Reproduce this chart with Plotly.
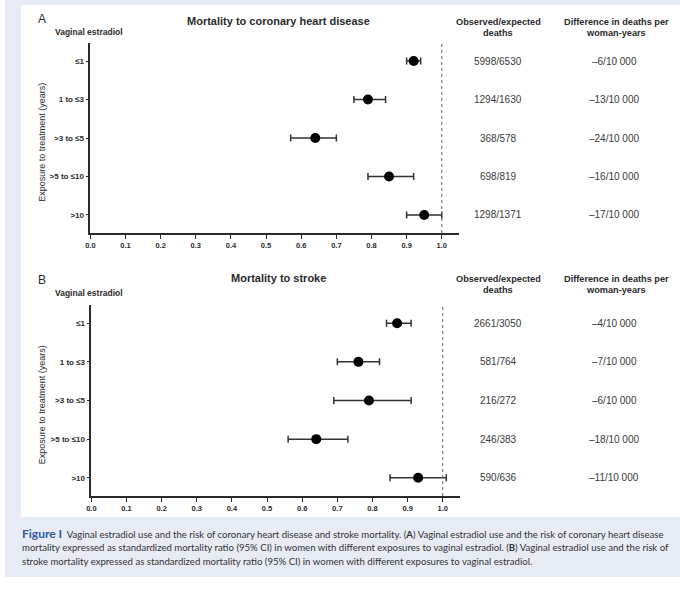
import plotly.graph_objects as go

# ---------------- data ----------------
categories = ["≤1", "1 to ≤3", ">3 to ≤5", ">5 to ≤10", ">10"]

chd_smr = [0.92, 0.79, 0.64, 0.85, 0.95]
chd_lo = [0.90, 0.75, 0.57, 0.79, 0.90]
chd_hi = [0.94, 0.84, 0.70, 0.92, 1.00]
chd_obs_exp = ["5998/6530", "1294/1630", "368/578", "698/819", "1298/1371"]
chd_diff = ["–6/10 000", "–13/10 000", "–24/10 000", "–16/10 000", "–17/10 000"]

stroke_smr = [0.87, 0.76, 0.79, 0.64, 0.93]
stroke_lo = [0.84, 0.70, 0.69, 0.56, 0.85]
stroke_hi = [0.91, 0.82, 0.91, 0.73, 1.01]
stroke_obs_exp = ["2661/3050", "581/764", "216/272", "246/383", "590/636"]
stroke_diff = ["–4/10 000", "–7/10 000", "–6/10 000", "–18/10 000", "–11/10 000"]

x_ticks = [0.0, 0.1, 0.2, 0.3, 0.4, 0.5, 0.6, 0.7, 0.8, 0.9, 1.0]
x_tick_labels = ["0.0", "0.1", "0.2", "0.3", "0.4", "0.5", "0.6", "0.7", "0.8", "0.9", "1.0"]

W, H = 680, 594
def px(x):
    return x / W
def py(y):
    return 1 - y / H

AX = "Arial, Liberation Sans, sans-serif"
CAP = "Lato, sans-serif"
DARK = "#2b2b2b"

fig = go.Figure()

panels = [
    dict(smr=chd_smr, lo=chd_lo, hi=chd_hi, obs=chd_obs_exp, diff=chd_diff,
         xa="x", ya="y", xdom=(86, 457.7), ydom=(43, 233),
         letter="A", letter_y=19, title="Mortality to coronary heart disease", title_y=21,
         ve_y=32, head_y=(22, 33)),
    dict(smr=stroke_smr, lo=stroke_lo, hi=stroke_hi, obs=stroke_obs_exp, diff=stroke_diff,
         xa="x2", ya="y2", xdom=(87, 458.7), ydom=(305, 496),
         letter="B", letter_y=280, title="Mortality to stroke", title_y=278,
         ve_y=293, head_y=(279, 290)),
]

annotations = []
shapes = []

# backgrounds
shapes.append(dict(type="rect", xref="paper", yref="paper", x0=0, x1=1, y0=py(577), y1=1,
                   fillcolor="#e6ebf4", line=dict(width=0), layer="below"))
shapes.append(dict(type="rect", xref="paper", yref="paper", x0=px(16), x1=1, y0=py(517), y1=py(5),
                   fillcolor="white", line=dict(width=0), layer="below"))

for i, p in enumerate(panels):
    err_plus = [h - m for h, m in zip(p["hi"], p["smr"])]
    err_minus = [m - l for m, l in zip(p["smr"], p["lo"])]
    fig.add_trace(go.Scatter(
        x=p["smr"], y=categories, mode="markers",
        marker=dict(color="black", size=10),
        error_x=dict(type="data", symmetric=False, array=err_plus, arrayminus=err_minus,
                     color="#333333", thickness=1.5, width=3.5),
        xaxis=p["xa"], yaxis=p["ya"], showlegend=False, hoverinfo="skip",
    ))
    xkey = "xaxis" if i == 0 else "xaxis2"
    ykey = "yaxis" if i == 0 else "yaxis2"
    fig.update_layout(**{
        xkey: dict(domain=[px(p["xdom"][0]), px(p["xdom"][1])], range=[0, 1.05],
                   anchor=p["ya"], tickvals=x_ticks, ticktext=x_tick_labels,
                   showline=True, linecolor=DARK, linewidth=1.5, ticks="outside",
                   ticklen=4, tickwidth=1, tickcolor=DARK, showgrid=False, zeroline=False,
                   tickfont=dict(family=AX, size=7.5, color=DARK, weight="bold"),
                   fixedrange=True),
        ykey: dict(domain=[py(p["ydom"][1]), py(p["ydom"][0])], type="category",
                   categoryorder="array", categoryarray=categories,
                   range=[4.47, -0.47], anchor=p["xa"],
                   showline=True, linecolor=DARK, linewidth=1.5, ticks="outside",
                   ticklen=3, tickwidth=1, tickcolor=DARK, showgrid=False, zeroline=False,
                   tickfont=dict(family=AX, size=8, color=DARK, weight="bold"),
                   fixedrange=True),
    })
    # dotted reference line at 1.0
    shapes.append(dict(type="line", xref=p["xa"], yref=p["ya"] + " domain", x0=1.0, x1=1.0,
                       y0=0, y1=1, line=dict(color="#666666", width=1, dash="dot")))
    # panel letter
    annotations.append(dict(text=p["letter"], x=px(31), y=py(p["letter_y"]), xref="paper", yref="paper",
                            xanchor="left", yanchor="middle", showarrow=False,
                            font=dict(family=AX, size=12, color=DARK)))
    # title
    annotations.append(dict(text=p["title"], x=px(276), y=py(p["title_y"]), xref="paper", yref="paper",
                            xanchor="center", yanchor="middle", showarrow=False,
                            font=dict(family=AX, size=11, color=DARK, weight="bold")))
    # Vaginal estradiol
    annotations.append(dict(text="Vaginal estradiol", x=px(85), y=py(p["ve_y"]), xref="paper", yref="paper",
                            xanchor="center", yanchor="middle", showarrow=False,
                            font=dict(family=AX, size=8.5, color=DARK, weight="bold")))
    # y-axis title
    yc = (p["ydom"][0] + p["ydom"][1]) / 2 + 4
    annotations.append(dict(text="Exposure to treatment (years)", x=px(37), y=py(yc), xref="paper", yref="paper",
                            xanchor="center", yanchor="middle", textangle=-90, showarrow=False,
                            font=dict(family=AX, size=9, color=DARK)))
    # column headers
    hf = dict(family=AX, size=9.2, color=DARK, weight="bold")
    annotations.append(dict(text="Observed/expected", x=px(497), y=py(p["head_y"][0]), xref="paper", yref="paper",
                            xanchor="center", yanchor="middle", showarrow=False, font=hf))
    annotations.append(dict(text="deaths", x=px(497), y=py(p["head_y"][1]), xref="paper", yref="paper",
                            xanchor="center", yanchor="middle", showarrow=False, font=hf))
    annotations.append(dict(text="Difference in deaths per", x=px(616), y=py(p["head_y"][0]), xref="paper", yref="paper",
                            xanchor="center", yanchor="middle", showarrow=False, font=hf))
    annotations.append(dict(text="woman-years", x=px(616), y=py(p["head_y"][1]), xref="paper", yref="paper",
                            xanchor="center", yanchor="middle", showarrow=False, font=hf))
    # values
    for cat, o, d in zip(categories, p["obs"], p["diff"]):
        annotations.append(dict(text=o, x=px(497), y=cat, xref="paper", yref=p["ya"],
                                xanchor="center", yanchor="middle", showarrow=False,
                                font=dict(family=AX, size=10, color="#3a3a3a")))
        annotations.append(dict(text=d, x=px(614), y=cat, xref="paper", yref=p["ya"],
                                xanchor="center", yanchor="middle", showarrow=False,
                                font=dict(family=AX, size=10, color="#3a3a3a")))

# caption
cap_lines = [
    "<b><span style='color:#2b5aa8;font-size:12px'>Figure I</span></b>  Vaginal estradiol use and the risk of coronary heart disease and stroke mortality. (<b>A</b>) Vaginal estradiol use and the risk of coronary heart disease",
    "mortality expressed as standardized mortality ratio (95% CI) in women with different exposures to vaginal estradiol. (<b>B</b>) Vaginal estradiol use and the risk of",
    "stroke mortality expressed as standardized mortality ratio (95% CI) in women with different exposures to vaginal estradiol.",
]
cap_y = [533, 547, 561]
for t, yy in zip(cap_lines, cap_y):
    annotations.append(dict(text=t, x=px(15), y=py(yy), xref="paper", yref="paper",
                            xanchor="left", yanchor="middle", showarrow=False,
                            font=dict(family=CAP, size=9.6, color="#333333")))

fig.update_layout(
    width=W, height=H, margin=dict(l=0, r=0, t=0, b=0),
    paper_bgcolor="white", plot_bgcolor="rgba(0,0,0,0)",
    shapes=shapes, annotations=annotations, showlegend=False,
)

fig.write_html("out.html", config={"displayModeBar": False},
               post_script="document.body.style.margin='0';document.body.style.overflow='hidden';")
